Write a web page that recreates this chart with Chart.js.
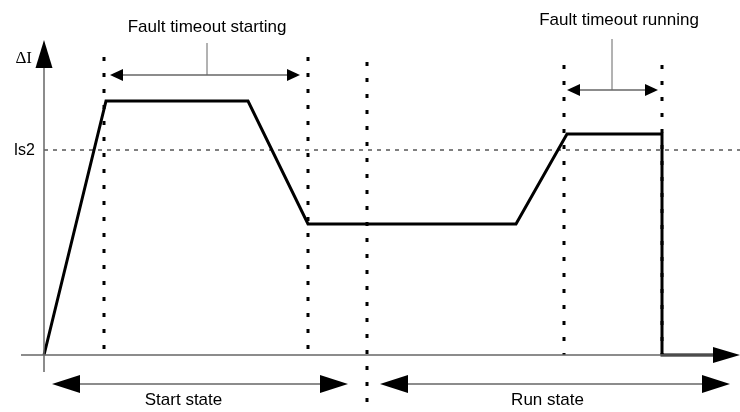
<!DOCTYPE html>
<html>
<head>
<meta charset="utf-8">
<script src="https://cdn.jsdelivr.net/npm/chart.js@4/dist/chart.umd.min.js"></script>
<style>
  html, body { margin: 0; padding: 0; background: #ffffff; }
  #wrap { width: 740px; height: 412px; }
</style>
</head>
<body>
<div id="wrap"><canvas id="c" width="740" height="412"></canvas></div>
<script>
// ---- data (time in arbitrary units, current ΔI in arbitrary units) ----
const timeVals = [0, 6.2, 20.4, 26.4, 47.2, 52.3, 61.8, 61.8, 66.9];
const deltaI   = [0, 25.4, 25.4, 13.1, 13.1, 22.1, 22.1, 0, 0];
const is2Level = 20.5;
const is2Label = 'Is2';
const yAxisLabel = 'ΔI';

const markerTimes  = [6.0, 26.4, 32.3, 52.0, 61.8];
const markerTop    = [29.8, 29.8, 29.3, 29.0, 29.0];
const markerBottom = [0, 0, -5.7, 0, 0];

const intervalLabels = ['Fault timeout starting', 'Fault timeout running', 'Start state', 'Run state'];
const intervalStart  = [6.6, 52.3, 0.8, 33.6];
const intervalEnd    = [25.6, 61.4, 30.4, 68.6];
const intervalLevel  = [28.0, 26.5, -2.9, -2.9];
const labelTime      = [16.3, 57.5, 13.95, 50.35];
const labelLevel     = [32.3, 33.0, -5.0, -5.0];
const leaderTime     = [16.3, 56.8, null, null];
const leaderTop      = [31.2, 31.6, null, null];

const xRange = [-4.4, 69.6];
const yRange = [-5.7, 35.5];
const xAxisExtent = [-2.3, 66.9, 69.6];   // start, arrow base, arrow tip
const yAxisExtent = [-1.7, 28.7, 31.5];

// ---- datasets ----
const pts = (xs, ys) => xs.map((x, i) => ({x: x, y: ys[i]}));
const datasets = [];
datasets.push({
  data: [{x: xAxisExtent[0], y: 0}, {x: xAxisExtent[1], y: 0}],
  borderColor: '#666', borderWidth: 1.5, pointRadius: 0
});
datasets.push({
  data: [{x: 0, y: yAxisExtent[0]}, {x: 0, y: yAxisExtent[1]}],
  borderColor: '#666', borderWidth: 1.5, pointRadius: 0
});
datasets.push({
  data: [{x: 0, y: is2Level}, {x: xRange[1], y: is2Level}],
  borderColor: '#000', borderWidth: 1, borderDash: [4, 5], pointRadius: 0
});
markerTimes.forEach((t, i) => {
  datasets.push({
    data: [{x: t, y: markerTop[i]}, {x: t, y: markerBottom[i]}],
    borderColor: '#000', borderWidth: 3, borderDash: [4, 12], borderCapStyle: 'butt', pointRadius: 0
  });
});
datasets.push({
  data: pts(timeVals, deltaI),
  borderColor: '#000', borderWidth: 3, pointRadius: 0, borderJoinStyle: 'miter', tension: 0
});

// ---- annotation plugin: arrows and texts ----
const annot = {
  id: 'annot',
  afterDatasetsDraw(chart) {
    const ctx = chart.ctx;
    const X = v => chart.scales.x.getPixelForValue(v);
    const Y = v => chart.scales.y.getPixelForValue(v);
    function head(tipX, tipY, dx, dy, len, half) {
      // dx,dy direction unit vector pointing to tip
      const bx = tipX - dx * len, by = tipY - dy * len;
      ctx.beginPath();
      ctx.moveTo(tipX, tipY);
      ctx.lineTo(bx - dy * half, by + dx * half);
      ctx.lineTo(bx + dy * half, by - dx * half);
      ctx.closePath();
      ctx.fillStyle = '#000';
      ctx.fill();
    }
    ctx.save();
    // axis arrowheads
    head(X(xAxisExtent[2]), Y(0), 1, 0, X(xAxisExtent[2]) - X(xAxisExtent[1]), 8);
    head(X(0), Y(yAxisExtent[2]), 0, -1, Y(yAxisExtent[1]) - Y(yAxisExtent[2]), 8.5);

    // interval arrows
    intervalLabels.forEach((lab, i) => {
      const big = intervalLevel[i] < 0;
      const len = big ? 28 : 13, half = big ? 9 : 6;
      const x1 = X(intervalStart[i]), x2 = X(intervalEnd[i]), y = Y(intervalLevel[i]);
      ctx.strokeStyle = '#666';
      ctx.lineWidth = 1.5;
      ctx.beginPath();
      ctx.moveTo(x1 + len - 1, y);
      ctx.lineTo(x2 - len + 1, y);
      ctx.stroke();
      if (leaderTime[i] !== null) {
        ctx.lineWidth = 1;
        ctx.beginPath();
        ctx.moveTo(X(leaderTime[i]), y);
        ctx.lineTo(X(leaderTime[i]), Y(leaderTop[i]));
        ctx.stroke();
      }
      head(x1, y, -1, 0, len, half);
      head(x2, y, 1, 0, len, half);
      ctx.fillStyle = '#000';
      ctx.font = '17px "Liberation Sans", Arial, sans-serif';
      ctx.textAlign = 'center';
      ctx.textBaseline = 'alphabetic';
      ctx.fillText(lab, X(labelTime[i]), Y(labelLevel[i]));
    });

    // axis labels
    ctx.fillStyle = '#000';
    ctx.textAlign = 'right';
    ctx.textBaseline = 'middle';
    ctx.font = '17px "Liberation Serif", "Times New Roman", serif';
    ctx.fillText(yAxisLabel, X(-1.2), Y(29.6));
    ctx.font = '16px "Liberation Sans", Arial, sans-serif';
    ctx.fillText(is2Label, X(-0.9), Y(is2Level) + 0.5);
    ctx.restore();
  }
};

new Chart(document.getElementById('c'), {
  type: 'line',
  data: { datasets: datasets },
  options: {
    responsive: false,
    devicePixelRatio: 1,
    animation: false,
    layout: { padding: 0 },
    plugins: { legend: { display: false }, tooltip: { enabled: false } },
    elements: { line: { tension: 0 } },
    scales: {
      x: { type: 'linear', min: xRange[0], max: xRange[1], display: false },
      y: { type: 'linear', min: yRange[0], max: yRange[1], display: false }
    }
  },
  plugins: [annot]
});
</script>
</body>
</html>
